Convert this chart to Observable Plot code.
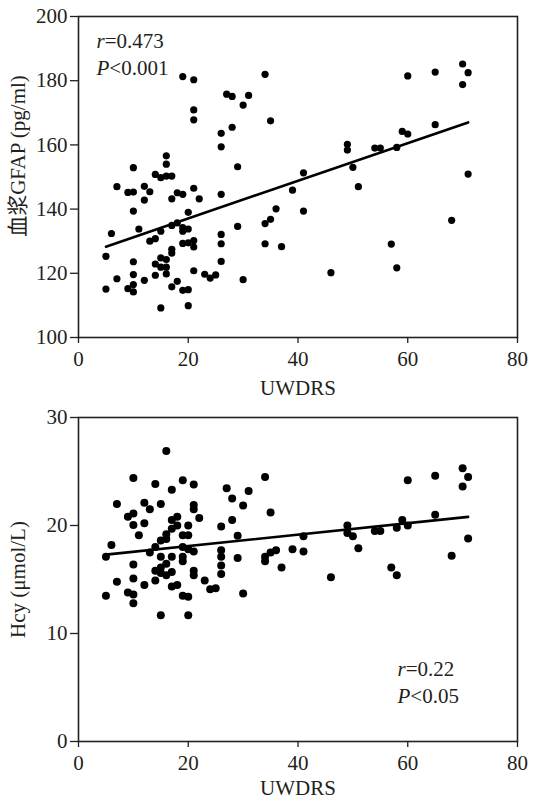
<!DOCTYPE html>
<html>
<head>
<meta charset="utf-8">
<script src="https://cdn.jsdelivr.net/npm/d3@7"></script>
<script src="https://cdn.jsdelivr.net/npm/@observablehq/plot@0.6"></script>
<style>
  body { margin: 0; background: #fff; }
  #chart svg { display: block; }
</style>
</head>
<body>
<div id="chart"></div>
<script>
// ---- Data ----
const xTicks = [0, 20, 40, 60, 80];
const gfapTicks = [100, 120, 140, 160, 180, 200];
const hcyTicks = [0, 10, 20, 30];

const gfapX = [19,21,21,21,34,27,28,31,30,35,26,26,28,29,10,16,16,14,15,16,17,7,9,10,12,13,12,17,18,19,21,22,26,39,10,6,5,5,7,9,10,10,10,10,12,11,13,14,15,17,18,19,19,20,20,17,17,19,20,21,21,15,16,14,14,15,16,16,17,18,19,20,15,20,21,23,24,25,26,26,26,29,30,34,35,36,34,37,41,49,49,50,51,54,55,58,59,60,60,65,65,70,71,70,71,41,46,57,58,68];
const gfapY = [181.3,180.3,170.9,167.8,182,175.8,175.1,175.4,172.4,167.5,163.6,159.4,165.5,153.2,152.9,156.6,154,150.8,149.8,150.3,150.3,147,145.2,145.3,147.1,145.4,142.8,143.2,145.1,144.6,146.5,143.2,144.6,145.9,139.4,132.4,125.3,115.1,118.3,115.2,116.5,114.2,123.6,119.6,117.8,133.8,130,130.8,133.1,134.9,135.7,134.2,133.1,133.8,139,127.5,126.3,129.3,129.5,130.2,128.2,124.8,124.3,122.9,119.4,121.9,121.9,119.8,115.8,117.5,114.7,114.9,109.2,109.9,120.8,119.7,118.5,119.5,132.1,129.2,123.7,134.6,118,135.5,136.8,140.1,129.2,128.3,151.3,160.2,158.4,153,147,159,159,159.2,164.2,163.4,181.5,182.7,166.3,185.2,182.5,178.8,150.9,139.4,120.2,129.1,121.7,136.5];
const gfapFitX = [5, 71];
const gfapFitY = [128.3, 167];

const hcyX = [16,10,14,19,21,17,27,28,31,30,34,35,7,12,13,15,9,10,10,12,11,6,5,10,21,21,22,17,18,18,17,16,16,15,20,19,20,14,13,19,20,21,19,15,17,16,15,19,26,28,29,26,26,26,29,34,35,36,34,37,39,5,7,9,10,10,10,12,14,14,15,16,17,17,18,19,20,21,21,23,24,25,26,30,15,20,41,41,49,49,50,51,54,55,58,59,60,57,60,65,65,70,71,70,71,68,46,58];
const hcyY = [26.9,24.4,23.85,24.2,23.8,23.3,23.45,22.5,23.2,21.85,24.5,21.2,22.0,22.1,21.5,22.0,20.8,21.1,20.05,20.2,19.1,18.2,17.1,16.4,21.9,21.5,20.7,20.5,20.8,20.0,19.7,19.2,18.75,18.6,20.0,19.1,19.1,18.0,17.5,18.0,17.8,17.6,17.1,17.1,17.1,16.45,16.1,16.7,19.9,20.5,19.05,17.7,17.1,16.3,17.0,17.1,17.5,17.7,16.7,16.1,17.8,13.5,14.8,13.8,13.6,12.8,15.1,14.5,15.8,14.9,15.6,15.4,15.7,14.35,14.5,13.5,13.4,15.8,15.4,14.9,14.1,14.2,15.5,13.7,11.7,11.7,17.6,19.0,20.0,19.3,19.0,17.9,19.5,19.5,19.8,20.5,20.0,16.1,24.2,24.6,21.0,25.3,24.5,23.6,18.8,17.2,15.2,15.4];
const hcyFitX = [5, 71];
const hcyFitY = [17.3, 20.8];

const xLabel = "UWDRS";
const gfapLabel = "血浆GFAP (pg/ml)";
const hcyLabel = "Hcy (μmol/L)";
const gfapStats = ["r=0.473", "P<0.001"];
const hcyStats = ["r=0.22", "P<0.05"];

// ---- Build tables ----
const gfapData = gfapX.map((x, i) => ({x, y: gfapY[i]}));
const hcyData = hcyX.map((x, i) => ({x, y: hcyY[i]}));
const gfapFit = gfapFitX.map((x, i) => ({x, y: gfapFitY[i]}));
const hcyFit = hcyFitX.map((x, i) => ({x, y: hcyFitY[i]}));

const FONT = '"Liberation Serif", "Noto Sans CJK SC", serif';
const INK = "#231f20";
const FS = 21;

function panel({height, marginTop, marginBottom, yDomain, yTicks, data, fit, yLabel, yLabelDy, stats, statsDx, statsDy, r, xTitleDy}) {
  return Plot.plot({
    width: 534,
    height,
    marginTop,
    marginBottom,
    marginLeft: 78,
    marginRight: 17,
    style: {fontFamily: FONT, fontSize: FS + "px", color: INK, background: "#fff", overflow: "visible"},
    x: {domain: [0, 80]},
    y: {domain: yDomain},
    marks: [
      Plot.axisX({ticks: xTicks, tickSize: 6, tickPadding: 8, label: null, fontSize: FS, stroke: INK, strokeWidth: 1.3}),
      Plot.axisY({ticks: yTicks, tickSize: 8, tickPadding: 3, label: null, fontSize: FS, stroke: INK, strokeWidth: 1.3}),
      Plot.frame({stroke: "#222", strokeWidth: 1.6}),
      Plot.dot(data, {x: "x", y: "y", r, fill: "#000", stroke: null}),
      Plot.line(fit, {x: "x", y: "y", stroke: "#000", strokeWidth: 2.6}),
      Plot.text([xLabel], {frameAnchor: "bottom", dy: xTitleDy, textAnchor: "middle", lineAnchor: "middle", fontSize: FS, fill: INK}),
      Plot.text([yLabel], {frameAnchor: "left", dx: -60, dy: yLabelDy, rotate: -90, textAnchor: "middle", lineAnchor: "middle", fontSize: FS, fill: INK}),
      Plot.text([stats[0]], {frameAnchor: "top-left", dx: statsDx, dy: statsDy, textAnchor: "start", lineAnchor: "middle", fontSize: FS, fill: INK}),
      Plot.text([stats[1]], {frameAnchor: "top-left", dx: statsDx, dy: statsDy + 27, textAnchor: "start", lineAnchor: "middle", fontSize: FS, fill: INK})
    ]
  });
}

const topPanel = panel({
  height: 400, marginTop: 16, marginBottom: 63,
  yDomain: [100, 200], yTicks: gfapTicks, data: gfapData, fit: gfapFit,
  yLabel: gfapLabel, yLabelDy: -21, stats: gfapStats, statsDx: 18, statsDy: 25, r: 3.6, xTitleDy: 51
});
const bottomPanel = panel({
  height: 399, marginTop: 17, marginBottom: 58,
  yDomain: [0, 30], yTicks: hcyTicks, data: hcyData, fit: hcyFit,
  yLabel: hcyLabel, yLabelDy: 0, stats: hcyStats, statsDx: 319, statsDy: 252, r: 4.0, xTitleDy: 47
});

// italicise the leading statistic letter (r, P)
const NS = "http://www.w3.org/2000/svg";
for (const svg of [topPanel, bottomPanel]) {
  svg.querySelectorAll("text").forEach(t => {
    const s = t.textContent;
    if (/^(r=|P<)/.test(s)) {
      t.textContent = "";
      const a = document.createElementNS(NS, "tspan");
      a.setAttribute("font-style", "italic");
      a.textContent = s[0];
      const b = document.createElementNS(NS, "tspan");
      b.textContent = s.slice(1);
      t.appendChild(a);
      t.appendChild(b);
    }
  });
}

const chart = document.getElementById("chart");
chart.appendChild(topPanel);
chart.appendChild(bottomPanel);
</script>
</body>
</html>
